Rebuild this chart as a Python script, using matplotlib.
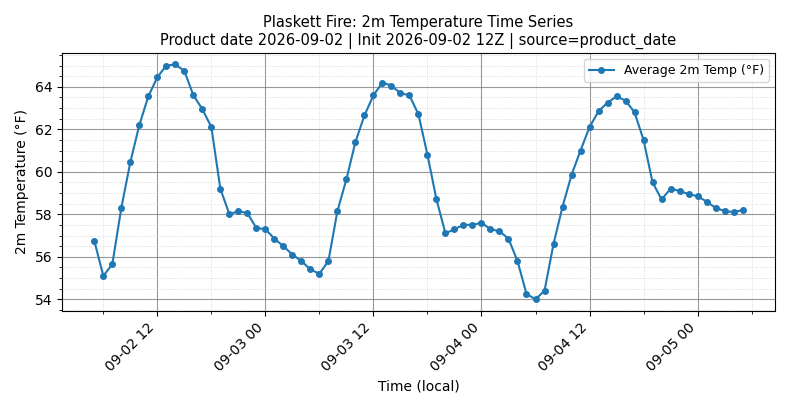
import pandas as pd
import matplotlib
matplotlib.use("Agg")
import matplotlib.pyplot as plt
import matplotlib.dates as mdates

start_time = "2026-09-02 05:00"
temps_f = [
    56.75, 55.1, 55.65, 58.3, 60.45, 62.2, 63.55, 64.45, 65.0, 65.05, 64.75, 63.6, 62.95,
    62.1, 59.2, 58.0, 58.15, 58.05, 57.35, 57.3, 56.85, 56.5, 56.1, 55.8, 55.4, 55.2,
    55.8, 58.15, 59.65, 61.4, 62.65, 63.6, 64.2, 64.05, 63.7, 63.6, 62.7, 60.8, 58.7,
    57.1, 57.3, 57.5, 57.5, 57.6,
    57.3, 57.2, 56.85, 55.8, 54.25, 54.0, 54.4, 56.6, 58.35, 59.85, 61.0, 62.1,
    62.85, 63.25, 63.55, 63.35, 62.8, 61.5, 59.5, 58.7, 59.2, 59.1, 58.95, 58.85,
    58.6, 58.3, 58.15, 58.1, 58.2,
]
times = pd.date_range(start_time, periods=len(temps_f), freq="h")

fig, ax = plt.subplots(figsize=(7.9, 4.09), dpi=100)
ax.plot(times, temps_f, marker="o", markersize=4, color="#1f77b4", label="Average 2m Temp (°F)")

ax.set_title("Plaskett Fire: 2m Temperature Time Series\n"
             "Product date 2026-09-02 | Init 2026-09-02 12Z | source=product_date", fontsize=10.5)
ax.set_xlabel("Time (local)")
ax.set_ylabel("2m Temperature (°F)")

ax.minorticks_on()
ax.xaxis.set_major_locator(mdates.HourLocator(byhour=[0, 12]))
ax.xaxis.set_minor_locator(mdates.HourLocator(byhour=[6, 18]))
ax.xaxis.set_major_formatter(mdates.DateFormatter("%m-%d %H"))
ax.yaxis.set_minor_locator(plt.MultipleLocator(0.5))
plt.setp(ax.get_xticklabels(), rotation=45, ha="right")

ax.grid(True, which="major", color="gray", alpha=0.8, linewidth=0.8)
ax.grid(True, which="minor", linestyle=":", color="lightgray", linewidth=0.6)
ax.legend(loc="upper right", fontsize=9)

fig.tight_layout()
fig.savefig("out.png", dpi=100)
